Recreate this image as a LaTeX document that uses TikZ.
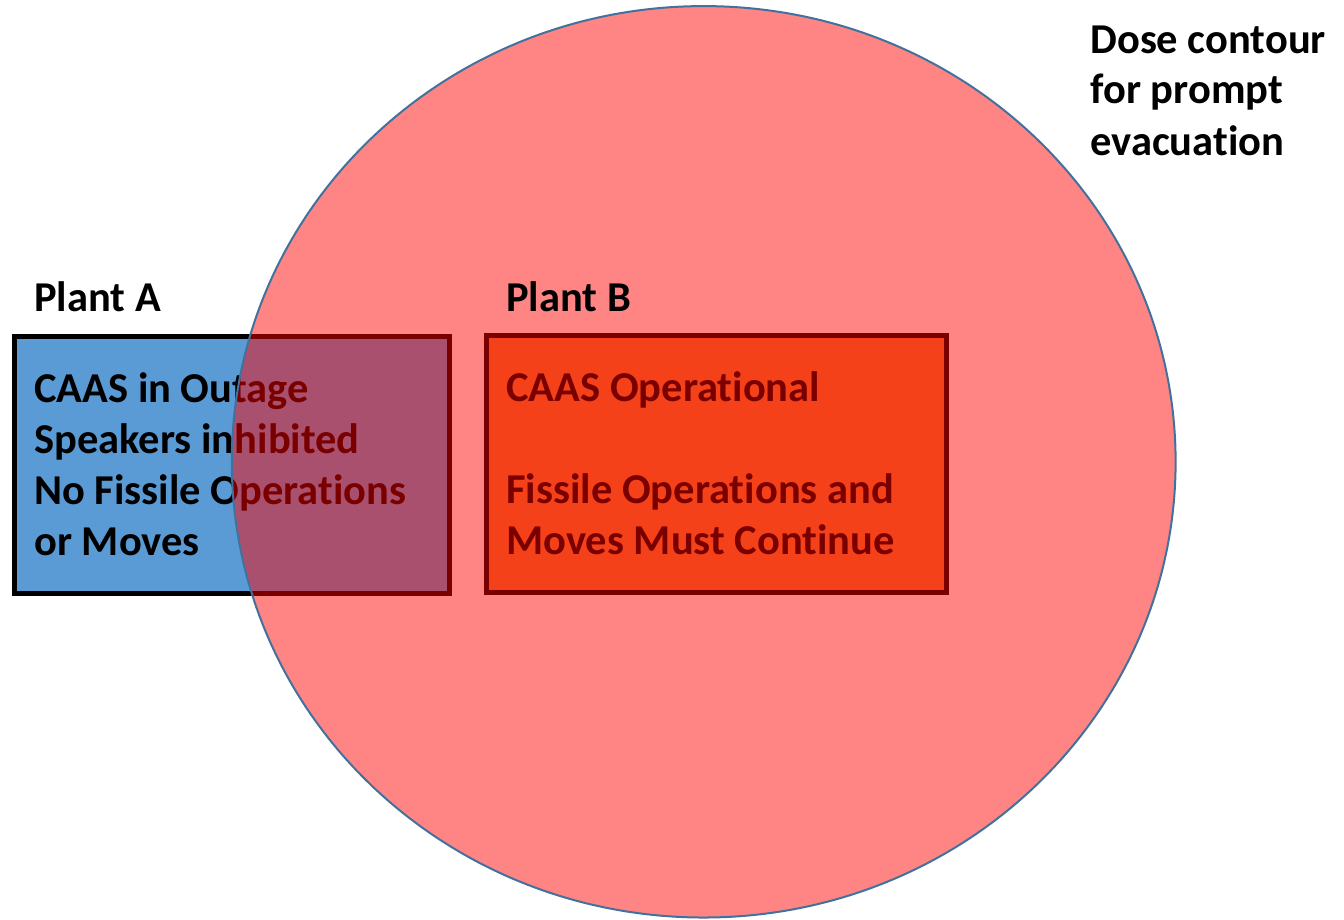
\documentclass[tikz,border=0pt]{standalone}
\usepackage{fontspec}
\setmainfont{Carlito}[Ligatures={NoCommon}]
\definecolor{boxblue}{HTML}{5B9BD5}
\definecolor{boxorange}{HTML}{ED7D31}
\definecolor{rimblue}{HTML}{41719C}
\tikzset{
  plantbox/.style={draw=black, line width=2.85pt},
  txt/.style={anchor=base west, inner sep=0pt, font=\fontsize{24.2pt}{29pt}\selectfont\bfseries, text=black},
  dosezone/.style={fill=red, fill opacity=0.48, draw=rimblue, draw opacity=1, line width=1.14pt}
}
\begin{document}
\begin{tikzpicture}[x=0.02cm,y=-0.02cm]
\useasboundingbox (0,0) rectangle (1344,919);
% Plant A box
\draw[plantbox, fill=boxblue] (14.8,336.5) rectangle (449.5,593.5);
\node[txt] (a1) at (34,402) {CAAS in Outage};
\node[txt] (a2) at (34,453) {Speakers inhibited};
\node[txt] (a3) at (34,504) {No Fissile Operations};
\node[txt] (a4) at (34,555) {or Moves};
% Plant B box
\draw[plantbox, fill=boxorange] (486.5,335.8) rectangle (946.5,592.5);
\node[txt] (b1) at (506,401) {CAAS Operational};
\node[txt] (b2) at (506,503) {Fissile Operations and};
\node[txt] (b3) at (506,554) {Moves Must Continue};
% dose contour
\draw[dosezone] (703.7,461.8) ellipse [x radius=9.44cm, y radius=9.116cm];
% labels
\node[txt] (pa) at (34,311) {Plant A};
\node[txt] (pb) at (506,311) {Plant B};
\node[txt] (d1) at (1090,54) {Dose contour};
\node[txt] (d2) at (1090,104) {for prompt};
\node[txt] (d3) at (1090,155) {evacuation};
\end{tikzpicture}
\end{document}
